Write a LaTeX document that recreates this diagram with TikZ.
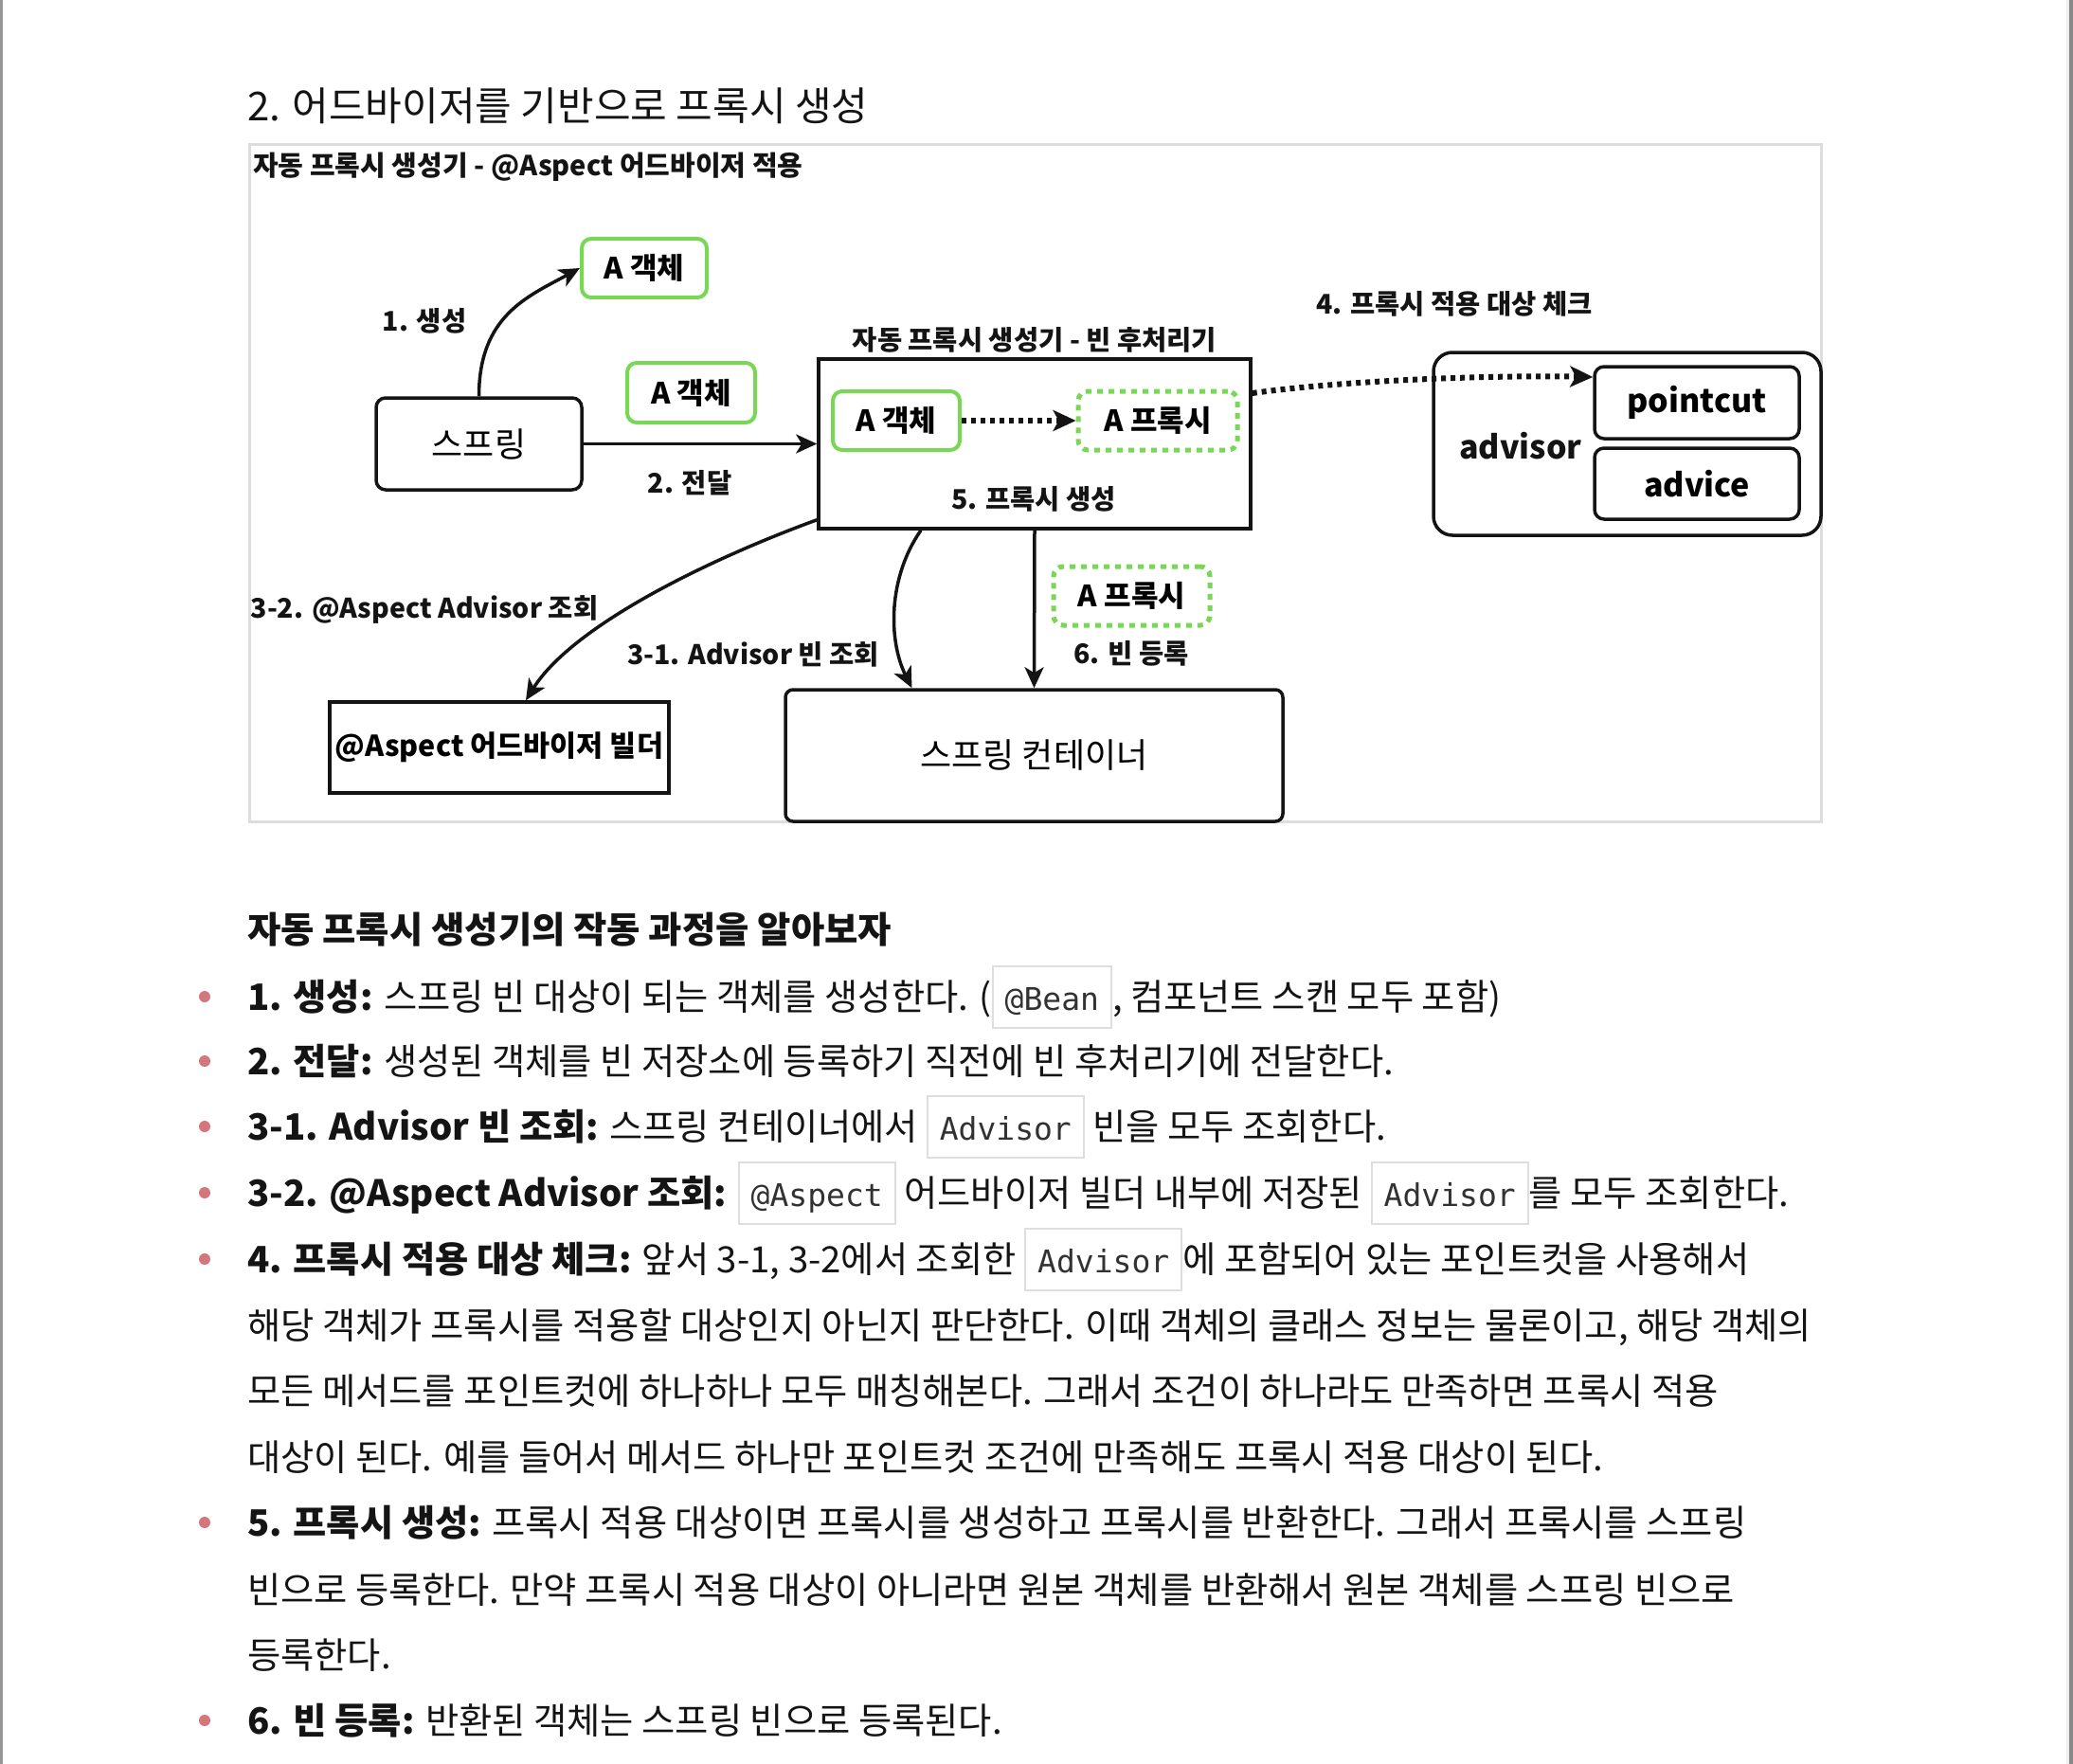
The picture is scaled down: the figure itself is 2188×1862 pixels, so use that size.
\documentclass[tikz,border=0pt]{standalone}
\usepackage{fontspec}
\setmainfont{Noto Sans CJK KR}
\setmonofont{DejaVu Sans Mono}
\usetikzlibrary{arrows.meta}
\definecolor{grn}{RGB}{120,215,85}
\definecolor{framec}{RGB}{221,221,221}
\definecolor{bullc}{RGB}{210,120,125}
\definecolor{codebd}{RGB}{222,222,222}
\definecolor{codetx}{RGB}{50,50,50}
\definecolor{pagel}{RGB}{150,150,150}
\definecolor{pager}{RGB}{136,136,136}
\definecolor{pagerl}{RGB}{238,238,238}
\definecolor{ink}{RGB}{20,20,20}
\newcommand\code[1]{{\setlength\fboxsep{0pt}\setlength\fboxrule{2pt}\fcolorbox{codebd}{white}{\hspace{12pt}\rule[-18pt]{0pt}{63pt}{\ttfamily\fontsize{33}{38}\selectfont\color{codetx}#1}\hspace{12pt}}}}
\tikzset{
  sbox/.style={draw=ink, line width=3.5, inner sep=0pt, font=\fontsize{36}{40}\selectfont},
  gbox/.style={draw=grn, line width=4, rounded corners=10, inner sep=0pt, font=\fontsize{31}{36}\selectfont\bfseries},
  gdbox/.style={draw=grn, line width=5, dash pattern=on 6 off 6, rounded corners=10, inner sep=0pt, font=\fontsize{31}{36}\selectfont\bfseries},
  lbl/.style={inner sep=0pt, font=\fontsize{28.5}{33}\selectfont\bfseries, text=ink},
  big/.style={inner sep=0pt, font=\fontsize{34}{40}\selectfont\bfseries, text=ink},
  arr/.style={draw=ink, line width=3.5, -{Stealth[length=22pt,width=20pt,inset=6pt]}},
  darr/.style={draw=ink, line width=6, dash pattern=on 5 off 5, -{Stealth[length=24pt,width=22pt,inset=6pt]}},
  body/.style={anchor=base west, inner sep=0pt, font=\fontsize{38.3}{46}\selectfont, text=ink},
  bullet/.style={circle, fill=bullc, inner sep=0pt, minimum size=12pt}
}
\begin{document}
\begin{tikzpicture}[x=1pt,y=-1pt]
\useasboundingbox (0,0) rectangle (2188,1862);
\fill[white] (0,0) rectangle (2188,1862);
\fill[pagel] (0,0) rectangle (2.5,1862);
\fill[pagerl] (2181,0) rectangle (2184,1862);
\fill[pager] (2184,0) rectangle (2188,1862);

% heading
\node[anchor=west, inner sep=0pt, font=\fontsize{42}{48}\selectfont, text=ink] (title) at (261,112) {2. 어드바이저를 기반으로 프록시 생성};

% diagram frame
\draw[framec, line width=3] (263,153) rectangle (1922,867);
\node[anchor=west, inner sep=0pt, font=\fontsize{29}{34}\selectfont\bfseries, text=ink] (dtitle) at (267,176) {자동 프록시 생성기 - @Aspect 어드바이저 적용};

% nodes
\node[gbox, minimum width=132, minimum height=62] (aobj1) at (680,283) {A 객체};
\node[sbox, rounded corners=10, minimum width=217, minimum height=97] (spring) at (505.5,468.5) {스프링};
\node[gbox, minimum width=135, minimum height=63] (aobj2) at (729.5,414.5) {A 객체};
\node[sbox, minimum width=456, minimum height=179] (bpp) at (1092,468.5) {};
\node[lbl] (bpplbl) at (1092,359) {자동 프록시 생성기 - 빈 후처리기};
\node[gbox, minimum width=134, minimum height=62] (aobj3) at (946,444) {A 객체};
\node[gdbox, minimum width=168, minimum height=62] (aprox1) at (1222,444) {A 프록시};
\node[lbl] (lab5) at (1091,527) {5. 프록시 생성};
\node[lbl] (lab4) at (1535,321) {4. 프록시 적용 대상 체크};
\node[sbox, rounded corners=20, minimum width=409, minimum height=193] (advisor) at (1717.5,468.5) {};
\node[big] (advtxt) at (1605,471) {advisor};
\node[sbox, rounded corners=10, minimum width=216, minimum height=76, font=\fontsize{34}{40}\selectfont\bfseries] (pointcut) at (1791,425) {pointcut};
\node[sbox, rounded corners=10, minimum width=216, minimum height=75, font=\fontsize{34}{40}\selectfont\bfseries] (advice) at (1791,510.5) {advice};
\node[lbl] (lab32) at (448,643) {3-2. @Aspect Advisor 조회};
\node[sbox, minimum width=358, minimum height=96, font=\fontsize{30.5}{34}\selectfont\bfseries] (builder) at (527,789) {@Aspect 어드바이저 빌더};
\node[lbl] (lab31) at (795,691) {3-1. Advisor 빈 조회};
\node[gdbox, minimum width=165, minimum height=62] (aprox2) at (1194.5,629) {A 프록시};
\node[lbl] (lab6) at (1194,690) {6. 빈 등록};
\node[sbox, rounded corners=8, minimum width=525, minimum height=139, font=\fontsize{36}{40}\selectfont] (cont) at (1091.5,797.5) {스프링 컨테이너};
\node[lbl] (lab1) at (448,339) {1. 생성};
\node[lbl] (lab2) at (728,510) {2. 전달};

% connectors
\draw[arr] (spring.north) .. controls +(0,-85) and +(-55,30) .. (aobj1.west);
\draw[arr] (spring.east) -- (bpp.west);
\draw[darr] (aobj3.east) -- (aprox1.west);
\draw[darr] ([yshift=53.5pt]bpp.east) .. controls +(110,-15) and +(-90,-2) .. ([yshift=27pt]pointcut.west);
\draw[arr] ([yshift=11pt]bpp.south west) .. controls +(-110,40) and +(50,-80) .. ([xshift=28pt]builder.north);
\draw[arr] ([xshift=-120pt]bpp.south) .. controls +(-35,50) and +(-25,-50) .. ([xshift=-129pt]cont.north);
\draw[arr] (bpp.south) -- (cont.north);

% text section
\node[anchor=west, inner sep=0pt, font=\fontsize{38.4}{46}\selectfont\bfseries, text=ink] (head2) at (261,981) {자동 프록시 생성기의 작동 과정을 알아보자};

\node[body] (t1) at (261,1066) {\textbf{1. 생성:} 스프링 빈 대상이 되는 객체를 생성한다. (\code{@Bean}, 컴포넌트 스캔 모두 포함)};
\node[body] (t2) at (261,1134) {\textbf{2. 전달:} 생성된 객체를 빈 저장소에 등록하기 직전에 빈 후처리기에 전달한다.};
\node[body] (t3) at (261,1203) {\textbf{3-1. Advisor 빈 조회:} 스프링 컨테이너에서 \code{Advisor} 빈을 모두 조회한다.};
\node[body] (t4) at (261,1273) {\textbf{3-2. @Aspect Advisor 조회:} \code{@Aspect} 어드바이저 빌더 내부에 저장된 \code{Advisor}를 모두 조회한다.};
\node[body] (t5) at (261,1343) {\textbf{4. 프록시 적용 대상 체크:} 앞서 3-1, 3-2에서 조회한 \code{Advisor}에 포함되어 있는 포인트컷을 사용해서};
\node[body] (t6) at (261,1413) {해당 객체가 프록시를 적용할 대상인지 아닌지 판단한다. 이때 객체의 클래스 정보는 물론이고, 해당 객체의};
\node[body] (t7) at (261,1482) {모든 메서드를 포인트컷에 하나하나 모두 매칭해본다. 그래서 조건이 하나라도 만족하면 프록시 적용};
\node[body] (t8) at (261,1552) {대상이 된다. 예를 들어서 메서드 하나만 포인트컷 조건에 만족해도 프록시 적용 대상이 된다.};
\node[body] (t9) at (261,1621) {\textbf{5. 프록시 생성:} 프록시 적용 대상이면 프록시를 생성하고 프록시를 반환한다. 그래서 프록시를 스프링};
\node[body] (t10) at (261,1692) {빈으로 등록한다. 만약 프록시 적용 대상이 아니라면 원본 객체를 반환해서 원본 객체를 스프링 빈으로};
\node[body] (t11) at (261,1761) {등록한다.};
\node[body] (t12) at (261,1830) {\textbf{6. 빈 등록:} 반환된 객체는 스프링 빈으로 등록된다.};

\node[bullet] (b1) at (216,1052) {};
\node[bullet] (b2) at (216,1120) {};
\node[bullet] (b3) at (216,1189) {};
\node[bullet] (b4) at (216,1259) {};
\node[bullet] (b5) at (216,1329) {};
\node[bullet] (b9) at (216,1607) {};
\node[bullet] (b12) at (216,1816) {};
\end{tikzpicture}
\end{document}
